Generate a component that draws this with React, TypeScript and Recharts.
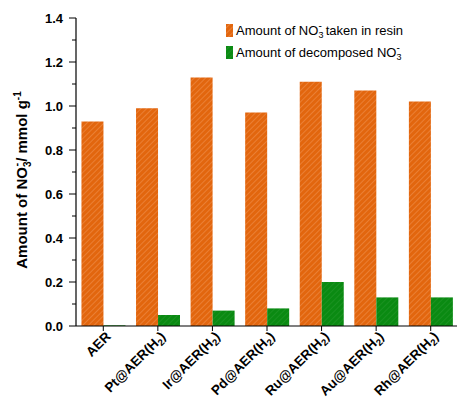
import { BarChart, Bar, XAxis, YAxis } from "recharts"

const categories = ["AER", "Pt@AER(H2)", "Ir@AER(H2)", "Pd@AER(H2)", "Ru@AER(H2)", "Au@AER(H2)", "Rh@AER(H2)"]
const takenInResin = [0.93, 0.99, 1.13, 0.97, 1.11, 1.07, 1.02]
const decomposed = [0.003, 0.05, 0.07, 0.08, 0.2, 0.13, 0.13]
const yTicks = [0, 0.1, 0.2, 0.3, 0.4, 0.5, 0.6, 0.7, 0.8, 0.9, 1.0, 1.1, 1.2, 1.3, 1.4]

const data = categories.map((name, i) => ({
  name,
  taken: takenInResin[i],
  decomposed: decomposed[i],
}))

const FONT = "'Liberation Sans', Arial, sans-serif"
const ORANGE = "#E2660E"
const GREEN = "#0A8A12"

function XTick({ x, y, payload }: any) {
  const label: string = payload.value
  const parts = label.split("H2")
  return (
    <g transform={`translate(${x + 5},${y + 3})`}>
      <text
        transform="rotate(-45)"
        textAnchor="end"
        fontFamily={FONT}
        fontWeight="bold"
        fontSize={13.5}
        fill="#000"
        dy="0.35em"
      >
        {parts.length > 1 ? (
          <>
            <tspan>{parts[0]}H</tspan>
            <tspan fontSize={9.5} dy={3}>2</tspan>
            <tspan dy={-3}>{parts[1]}</tspan>
          </>
        ) : (
          label
        )}
      </text>
    </g>
  )
}

function YTick({ x, y, payload }: any) {
  const v: number = payload.value
  const major = Math.round(v * 10) % 2 === 0
  return (
    <g>
      <line x1={x - (major ? 7 : 4)} x2={x} y1={y} y2={y} stroke="#000" strokeWidth={1} />
      {major && (
        <text
          x={x - 13}
          y={y}
          dy="0.35em"
          textAnchor="end"
          fontFamily={FONT}
          fontWeight="bold"
          fontSize={13}
          fill="#000"
        >
          {v.toFixed(1)}
        </text>
      )}
    </g>
  )
}

function YLabel() {
  return (
    <text
      transform="translate(27,180) rotate(-90)"
      textAnchor="middle"
      fontFamily={FONT}
      fontWeight="bold"
      fontSize={15}
      fill="#000"
    >
      <tspan>Amount of NO</tspan>
      <tspan fontSize={10} dy={4}>3</tspan>
      <tspan fontSize={11} dx={-5} dy={-11}>-</tspan>
      <tspan dy={7} dx={1}>/ mmol g</tspan>
      <tspan fontSize={10} dy={-6}>-1</tspan>
    </text>
  )
}

function LegendBox() {
  const rows = [
    { fill: "url(#hatchOrange)", before: "Amount of NO", after: "taken in resin" },
    { fill: "url(#hatchGreen)", before: "Amount of decomposed NO", after: "" },
  ]
  return (
    <svg width={240} height={50} style={{ position: "absolute", left: 224, top: 18 }}>
      {rows.map((r, i) => (
        <g key={i} transform={`translate(0,${i * 22})`}>
          <rect x={2} y={6} width={7} height={13} fill={r.fill} />
          <text x={12} y={17} fontFamily={FONT} fontSize={13} fill="#000">
            <tspan>{r.before}</tspan>
            <tspan fontSize={9} dy={3}>3</tspan>
            <tspan fontSize={10} dx={-5} dy={-9}>-</tspan>
            {r.after && (
              <tspan dy={6} dx={4}>
                {r.after}
              </tspan>
            )}
          </text>
        </g>
      ))}
    </svg>
  )
}

export default function App() {
  return (
    <div
      style={{
        position: "absolute",
        left: 0,
        top: 0,
        width: 457,
        height: 400,
        overflow: "hidden",
        background: "#fff",
      }}
    >
      <svg width={0} height={0} style={{ position: "absolute" }}>
        <defs>
          <pattern id="hatchOrange" patternUnits="userSpaceOnUse" width={4} height={4} patternTransform="rotate(45)">
            <rect width={4} height={4} fill={ORANGE} />
            <line x1={0} y1={0} x2={0} y2={4} stroke="#F2975A" strokeWidth={1} />
          </pattern>
          <pattern id="hatchGreen" patternUnits="userSpaceOnUse" width={4} height={4} patternTransform="rotate(45)">
            <rect width={4} height={4} fill={GREEN} />
            <line x1={0} y1={0} x2={0} y2={4} stroke="#2A9A30" strokeWidth={1} />
          </pattern>
        </defs>
      </svg>
      <BarChart
        width={462}
        height={400}
        data={data}
        margin={{ top: 18, right: 4, left: 0, bottom: 4 }}
        barCategoryGap="10%"
        barGap={0}
      >
        <XAxis
          dataKey="name"
          height={70}
          interval={0}
          axisLine={{ stroke: "#000", strokeWidth: 1.2 }}
          tickLine={{ stroke: "#000" }}
          tickSize={5}
          tickMargin={0}
          tick={<XTick />}
        />
        <XAxis
          xAxisId="top"
          dataKey="name"
          orientation="top"
          height={0}
          tick={false}
          tickLine={false}
          axisLine={{ stroke: "#000", strokeWidth: 1.2 }}
        />
        <YAxis
          width={76}
          domain={[0, 1.4]}
          ticks={yTicks}
          interval={0}
          axisLine={{ stroke: "#000", strokeWidth: 1.2 }}
          tickLine={false}
          tickSize={0}
          tickMargin={0}
          tick={<YTick />}
          label={{ content: () => <YLabel /> }}
        />
        <Bar dataKey="taken" fill="url(#hatchOrange)" isAnimationActive={false} />
        <Bar dataKey="decomposed" fill="url(#hatchGreen)" isAnimationActive={false} />
      </BarChart>
      <LegendBox />
    </div>
  )
}
